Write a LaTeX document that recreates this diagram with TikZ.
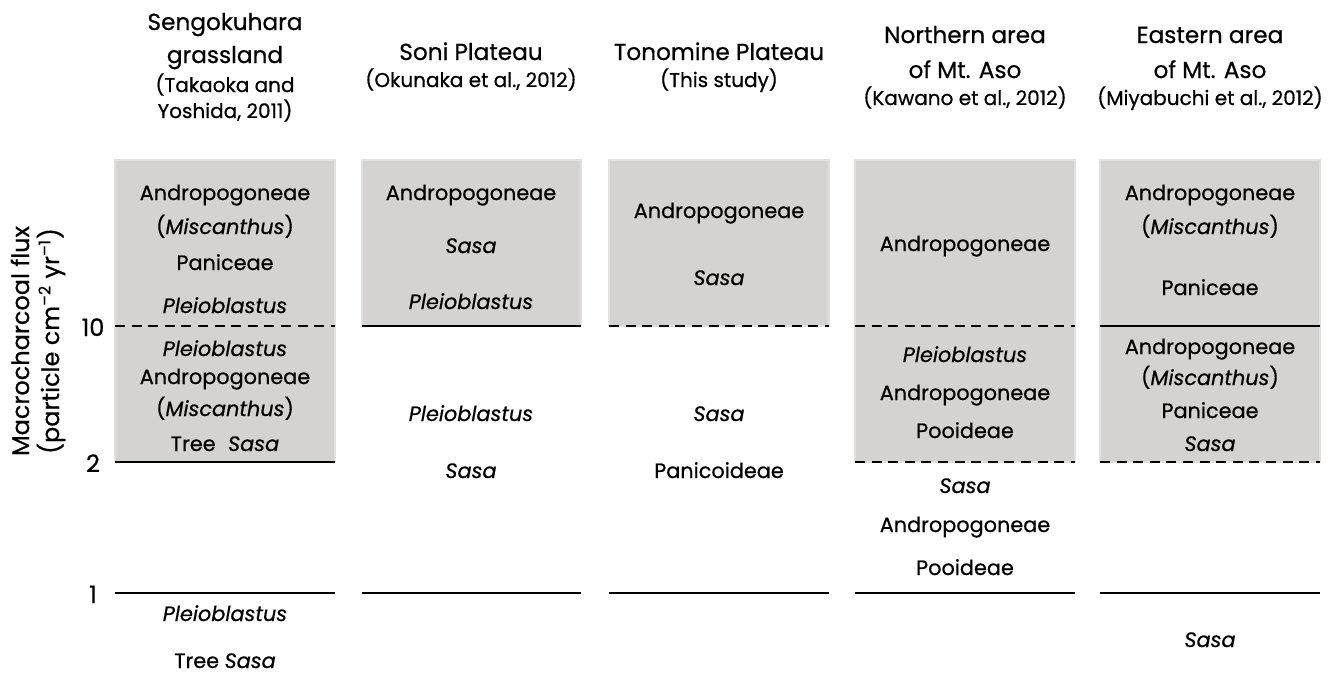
\documentclass[tikz,border=0pt]{standalone}
\usepackage{fontspec}
\setmainfont{Poppins}[UprightFeatures={FakeBold=0.6},ItalicFeatures={FakeBold=0.6}]
\definecolor{boxgray}{RGB}{212,211,210}
\definecolor{boxrim}{RGB}{224,224,224}
\tikzset{
  tx/.style={font=\fontsize{10.4}{12}\selectfont, inner sep=0pt, anchor=base},
  hd/.style={font=\fontsize{11.6}{14}\selectfont, inner sep=0pt, anchor=base},
  ct/.style={font=\fontsize{10}{11}\selectfont, inner sep=0pt, anchor=base},
  zone/.style={fill=boxgray, draw=boxrim, line width=1pt},
  lev/.style={line width=1.35pt},
  levd/.style={lev, dash pattern=on 5pt off 3.3pt},
}
\begin{document}
\begin{tikzpicture}[x=0.5pt,y=-0.5pt]
\useasboundingbox (0,0) rectangle (1334,675);
%boxes
\draw[zone] (115,160) rectangle (335,462);
\draw[zone] (362,160) rectangle (581,326);
\draw[zone] (609,160) rectangle (829,326);
\draw[zone] (855,160) rectangle (1075,462);
\draw[zone] (1100,160) rectangle (1320,462);
%levels
\draw[levd] (115,326)--(335,326);
\draw[lev] (115,462)--(335,462);
\draw[lev] (362,326)--(581,326);
\draw[levd] (609,326)--(829,326);
\draw[levd] (855,326)--(1075,326);
\draw[levd] (855,462)--(1075,462);
\draw[lev] (1100,326)--(1320,326);
\draw[levd] (1100,462)--(1320,462);
\foreach \xa/\xb in {115/335,362/581,609/829,855/1075,1100/1320}
  \draw[lev] (\xa,593)--(\xb,593);
%axis
\node[hd, font=\fontsize{12}{14}\selectfont] (t10) at (93,336) {10};
\node[hd, font=\fontsize{12}{14}\selectfont] (t2) at (93,472) {2};
\node[hd, font=\fontsize{12}{14}\selectfont] (t1) at (93,603) {1};
\node[hd, anchor=center, rotate=90, align=center, font=\fontsize{12}{15}\selectfont] (ylab) at (38,341)
  {Macrocharcoal flux\\(particle cm\textsuperscript{--2} yr\textsuperscript{--1})};
%headings
\node[hd] (h1a) at (225,30) {Sengokuhara};
\node[hd] (h1b) at (225,63) {grassland};
\node[ct] (h1c) at (225,92) {(Takaoka and};
\node[ct] (h1d) at (225,118) {Yoshida, 2011)};
\node[hd] (h2a) at (471,60) {Soni Plateau};
\node[ct] (h2b) at (471,87) {(Okunaka et al., 2012)};
\node[hd] (h3a) at (719,60) {Tonomine Plateau};
\node[ct] (h3b) at (719,87) {(This study)};
\node[hd] (h4a) at (965,43) {Northern area};
\node[hd] (h4b) at (965,78) {of Mt. Aso};
\node[ct] (h4c) at (965,105) {(Kawano et al., 2012)};
\node[hd] (h5a) at (1210,43) {Eastern area};
\node[hd] (h5b) at (1210,78) {of Mt. Aso};
\node[ct] (h5c) at (1210,105) {(Miyabuchi et al., 2012)};
%Sengokuhara
\node[tx] (a1) at (225,200) {Andropogoneae};
\node[tx] (a2) at (225,234) {(\textit{Miscanthus})};
\node[tx] (a3) at (225,270) {Paniceae};
\node[tx] (a4) at (225,313) {\textit{Pleioblastus}};
\node[tx] (a5) at (225,356) {\textit{Pleioblastus}};
\node[tx] (a6) at (225,384) {Andropogoneae};
\node[tx] (a7) at (225,416) {(\textit{Miscanthus})};
\node[tx] (a8) at (225,451) {Tree\hspace{0.6em}\textit{Sasa}};
\node[tx] (a9) at (225,621) {\textit{Pleioblastus}};
\node[tx] (a10) at (225,668) {Tree \textit{Sasa}};
%Soni
\node[tx] (b1) at (471,200) {Andropogoneae};
\node[tx] (b2) at (471,253) {\textit{Sasa}};
\node[tx] (b3) at (471,309) {\textit{Pleioblastus}};
\node[tx] (b4) at (471,421) {\textit{Pleioblastus}};
\node[tx] (b5) at (471,478) {\textit{Sasa}};
%Tonomine
\node[tx] (c1) at (719,218) {Andropogoneae};
\node[tx] (c2) at (719,285) {\textit{Sasa}};
\node[tx] (c3) at (719,421) {\textit{Sasa}};
\node[tx] (c4) at (719,478) {Panicoideae};
%Northern Aso
\node[tx] (d1) at (965,251) {Andropogoneae};
\node[tx] (d2) at (965,362) {\textit{Pleioblastus}};
\node[tx] (d3) at (965,400) {Andropogoneae};
\node[tx] (d4) at (965,438) {Pooideae};
\node[tx] (d5) at (965,493) {\textit{Sasa}};
\node[tx] (d6) at (965,532) {Andropogoneae};
\node[tx] (d7) at (965,575) {Pooideae};
%Eastern Aso
\node[tx] (e1) at (1210,200) {Andropogoneae};
\node[tx] (e2) at (1210,234) {(\textit{Miscanthus})};
\node[tx] (e3) at (1210,295) {Paniceae};
\node[tx] (e4) at (1210,354) {Andropogoneae};
\node[tx] (e5) at (1210,385) {(\textit{Miscanthus})};
\node[tx] (e6) at (1210,418) {Paniceae};
\node[tx] (e7) at (1210,451) {\textit{Sasa}};
\node[tx] (e8) at (1210,647) {\textit{Sasa}};
\end{tikzpicture}
\end{document}
